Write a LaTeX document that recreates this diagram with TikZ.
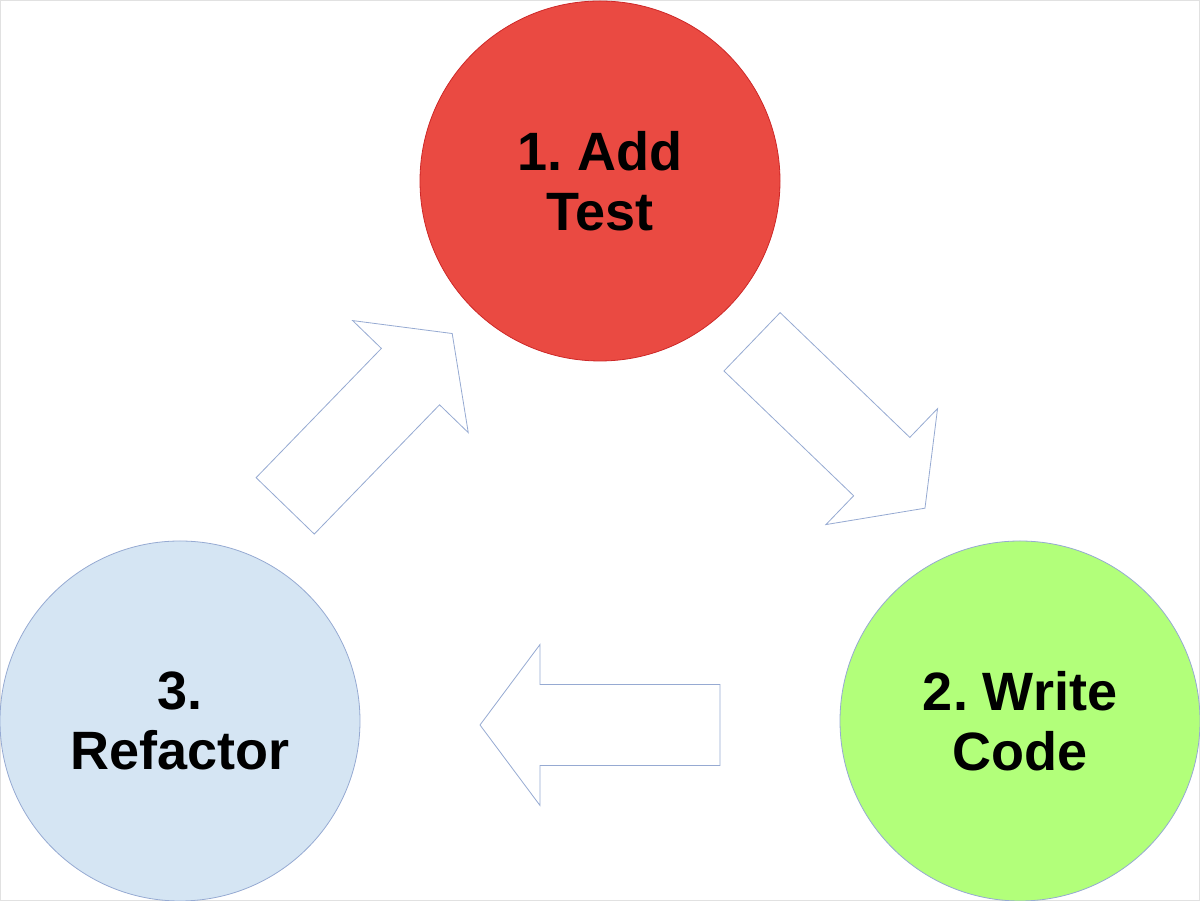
\documentclass[tikz,border=0pt]{standalone}
\usepackage{fontspec}
\setmainfont{Liberation Sans}
\usetikzlibrary{calc}
\definecolor{tddRed}{RGB}{234,74,66}
\definecolor{tddRedLine}{RGB}{205,40,40}
\definecolor{tddGreen}{RGB}{178,255,122}
\definecolor{tddBlue}{RGB}{213,229,243}
\definecolor{tddEdge}{RGB}{150,170,210}
\definecolor{tddFrame}{RGB}{225,225,225}

\tikzset{
  blockarrow/.pic={
    \draw[arrowline] (-120,-40.5) -- (60,-40.5) -- (60,-80.5) -- (120,0)
      -- (60,80.5) -- (60,40.5) -- (-120,40.5) -- cycle;
  }
}

\begin{document}
\frenchspacing
\begin{tikzpicture}[
        x=1pt, y=1pt,
        phase/.style={circle, draw=tddEdge, line width=0.8pt, inner sep=0pt, outer sep=0pt,
          minimum size=360pt, align=center, font=\fontsize{54}{60}\selectfont\bfseries},
        arrowline/.style={draw=tddEdge, line width=0.8pt, fill=white, line join=miter}
      ]
        \useasboundingbox (0,0) rectangle (1200,901);
        \draw[tddFrame, line width=1.5pt] (0,0) rectangle (1200,901);
        \node[phase, fill=tddRed, draw=tddRedLine] (add) at (600,720) {1. Add\\Test};
        \node[phase, fill=tddGreen] (write) at (1020,180) {2. Write\\Code};
        \node[phase, fill=tddBlue] (refactor) at (180,180) {3.\\Refactor};
        % cycle arrows between the phases
        \pic[rotate=-43.9] at (838.5,476) {blockarrow};
        \pic[rotate=180] at ($(write)!0.5!(refactor)+(0,-4)$) {blockarrow};
        \pic[rotate=45.9] at (368.7,481.3) {blockarrow};
      \end{tikzpicture}
\end{document}
